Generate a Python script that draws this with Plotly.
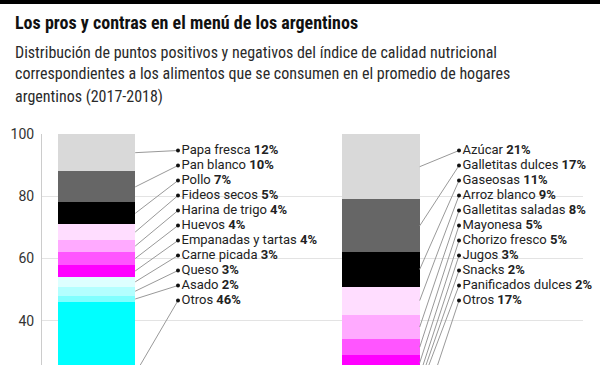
import plotly.graph_objects as go

# ---- data (bottom to top of each stacked bar) ----
left_items = ["Otros", "Asado", "Queso", "Carne picada", "Empanadas y tartas", "Huevos",
              "Harina de trigo", "Fideos secos", "Pollo", "Pan blanco", "Papa fresca"]
left_values = [46, 2, 3, 3, 4, 4, 4, 5, 7, 10, 12]
right_items = ["Otros", "Panificados dulces", "Snacks", "Jugos", "Chorizo fresco", "Mayonesa",
               "Galletitas saladas", "Arroz blanco", "Gaseosas", "Galletitas dulces", "Azúcar"]
right_values = [17, 2, 2, 3, 5, 5, 8, 9, 11, 17, 21]
level_colors = ["#00FFFF", "#80FFFF", "#B3FFFF", "#DDFFFF", "#FF00FF", "#FF55FF",
                "#FFAAFF", "#FFDDFF", "#000000", "#666666", "#D9D9D9"]
y_ticks = [40, 60, 80, 100]

title = "Los pros y contras en el menú de los argentinos"
subtitle_lines = ["Distribución de puntos positivos y negativos del índice de calidad nutricional",
                  "correspondientes a los alimentos que se consumen en el promedio de hogares",
                  "argentinos (2017-2018)"]

# ---- layout constants ----
W, H = 600, 365
ML, MR, MT, MB = 42, 17, 134, 0
Y_MIN, Y_MAX = 25.8, 100
BAR_W = 0.272
X_MIN, X_MAX = -0.1916, 1.71
plot_h = H - MT - MB
plot_w = W - ML - MR
px_per_y = plot_h / (Y_MAX - Y_MIN)
px_per_x = plot_w / (X_MAX - X_MIN)

def ypix_to_data(py):
    return Y_MAX - (py - MT) / px_per_y

def xpix_to_data(px):
    return X_MIN + (px - ML) / px_per_x

def ypix_to_paper(py):
    return (H - MB - py) / plot_h

def xpix_to_paper(px):
    return (px - ML) / plot_w

COND = "Roboto Condensed, Roboto, sans-serif"
LABEL_FONT = "Roboto, sans-serif"

fig = go.Figure()

# stacked bars: one trace per level
for i, col in enumerate(level_colors):
    fig.add_trace(go.Bar(
        x=[0, 1], y=[left_values[i], right_values[i]],
        width=BAR_W, marker=dict(color=col, line=dict(width=0)),
        showlegend=False, hoverinfo="skip"))

# labels + leader lines
def add_labels(items, values, bar_x, dot_px):
    n = len(items)
    cum = 0
    mids = []
    for v in values:
        mids.append(cum + v / 2)
        cum += v
    dot_x = xpix_to_data(dot_px)
    edge_x = bar_x + BAR_W / 2
    xs, ys, texts = [], [], []
    for rank in range(n):
        idx = n - 1 - rank  # top item first
        ly = ypix_to_data(150.5 + 15 * rank)
        fig.add_trace(go.Scatter(
            x=[edge_x, dot_x], y=[mids[idx], ly], mode="lines",
            line=dict(color="#999999", width=1), showlegend=False, hoverinfo="skip"))
        xs.append(dot_x)
        ys.append(ly)
        texts.append(f"{items[idx]} <b>{values[idx]}%</b>")
    fig.add_trace(go.Scatter(
        x=xs, y=ys, mode="markers+text", text=texts, textposition="middle right",
        marker=dict(color="#111111", size=4), cliponaxis=False,
        textfont=dict(family=LABEL_FONT, size=13, color="#222222"),
        showlegend=False, hoverinfo="skip"))

add_labels(left_items, left_values, 0, 178)
add_labels(right_items, right_values, 1, 459)

annotations = [dict(
    text=f"<b>{title}</b>", xref="paper", yref="paper",
    x=xpix_to_paper(13), y=ypix_to_paper(22), xanchor="left", yanchor="middle",
    showarrow=False, font=dict(family=COND, size=18, color="#111111"))]
for k, line in enumerate(subtitle_lines):
    annotations.append(dict(
        text=line, xref="paper", yref="paper",
        x=xpix_to_paper(13), y=ypix_to_paper(52 + 22 * k), xanchor="left", yanchor="middle",
        showarrow=False, font=dict(family=COND, size=16, color="#2a2a2a")))

fig.update_layout(
    width=W, height=H, margin=dict(l=ML, r=MR, t=MT, b=MB, pad=0),
    plot_bgcolor="white", paper_bgcolor="white",
    barmode="stack", bargap=0,
    annotations=annotations,
    shapes=[dict(type="rect", xref="paper", yref="paper",
                 x0=xpix_to_paper(0), x1=xpix_to_paper(W),
                 y0=ypix_to_paper(4), y1=ypix_to_paper(0),
                 fillcolor="#000000", line=dict(width=0), layer="above")],
    xaxis=dict(range=[X_MIN, X_MAX], showgrid=False, zeroline=False,
               showticklabels=False, showline=False, fixedrange=True),
    yaxis=dict(range=[Y_MIN, Y_MAX], tickvals=y_ticks, showgrid=True,
               gridcolor="#E3E3E3", gridwidth=1, zeroline=False,
               showline=True, linecolor="#CCCCCC", linewidth=1,
               tickfont=dict(family=LABEL_FONT, size=14, color="#333333"),
               ticks="", ticklabelstandoff=4),
)

fig.write_html("out.html", post_script="document.body.style.margin='0px';",
               config={"displayModeBar": False})
